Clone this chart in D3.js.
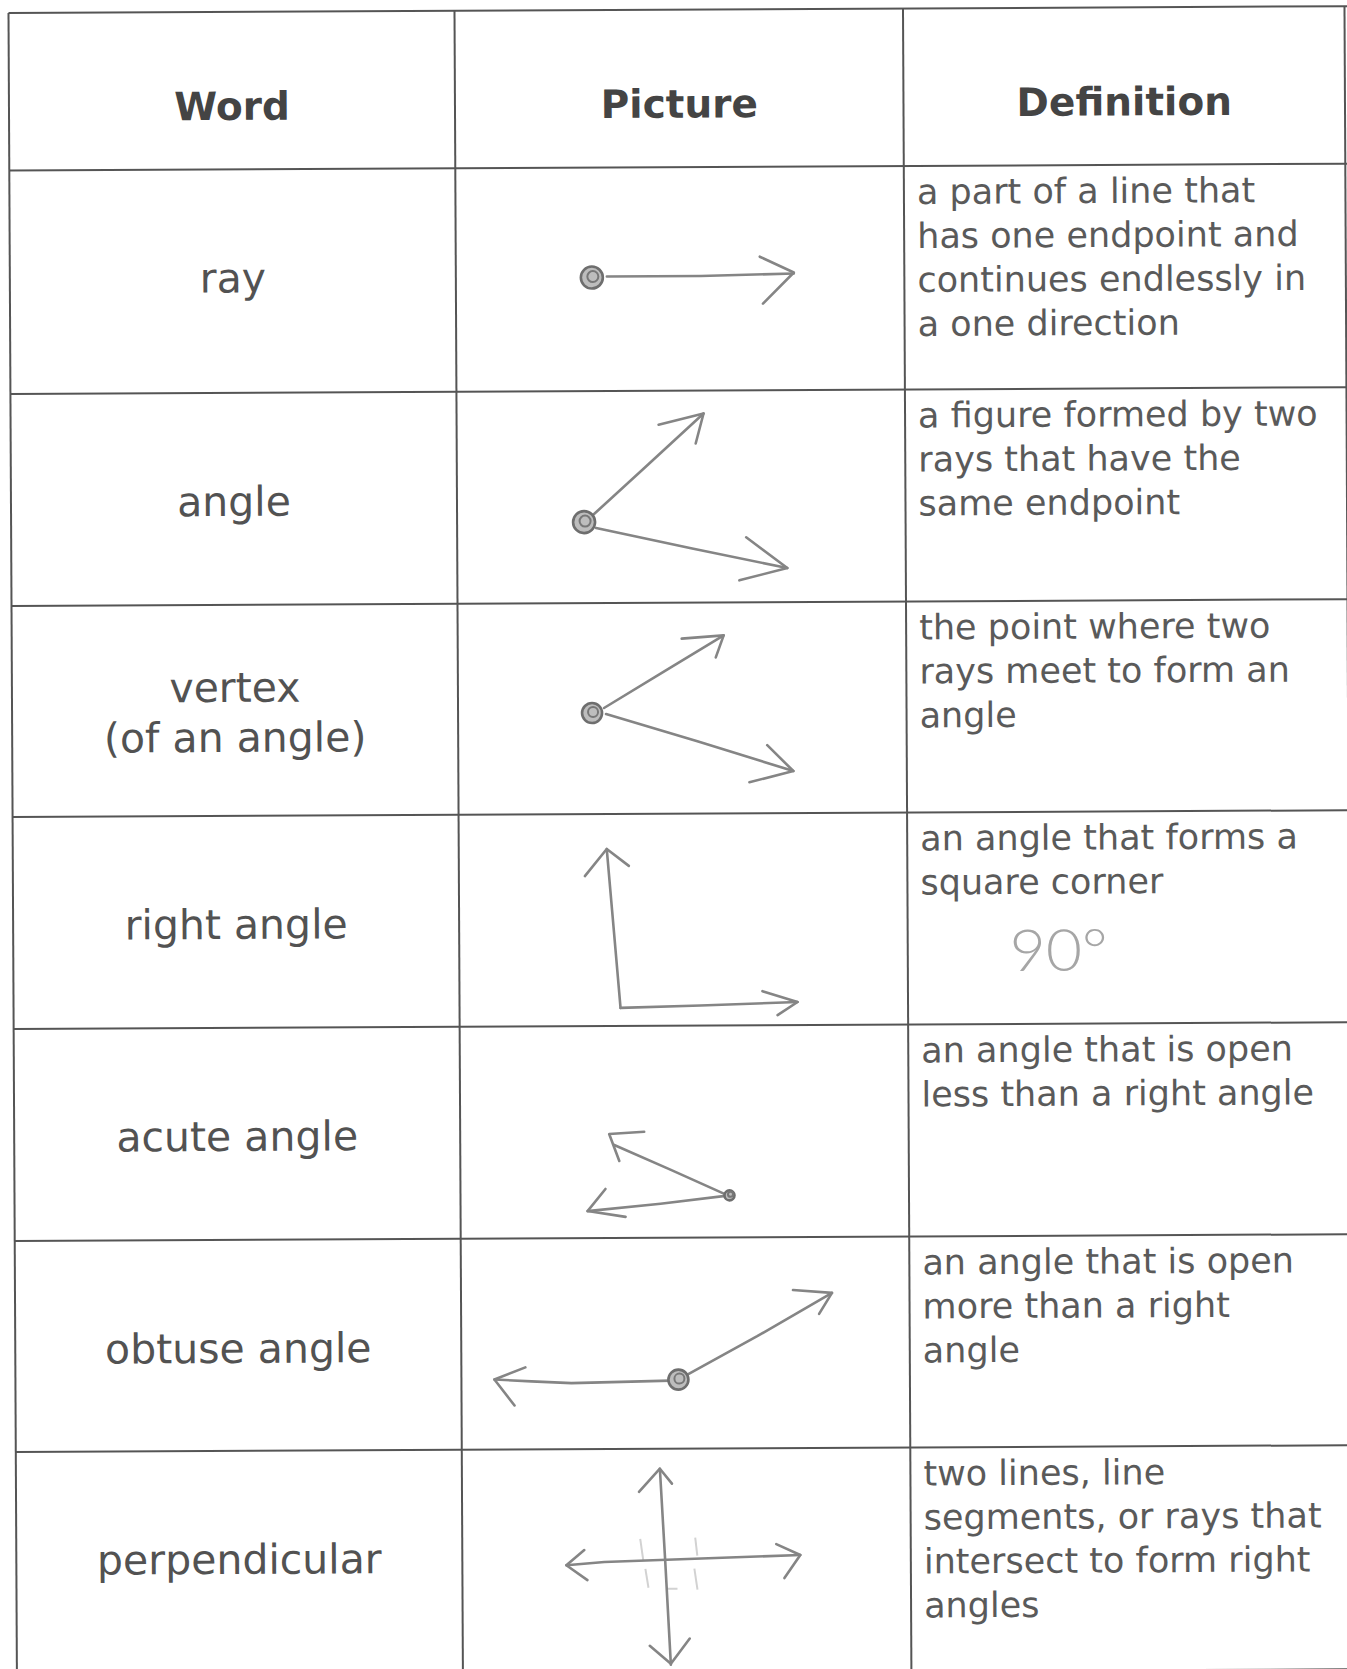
<!DOCTYPE html>
<html>
<head>
<meta charset="utf-8">
<script src="https://cdn.jsdelivr.net/npm/d3@7"></script>
<style>
  body { margin: 0; background: #fff; }
</style>
</head>
<body>
<div id="chart"></div>
<script>

// table content
var headers = ["Word", "Picture", "Definition"];

var words = [
  ["ray"],
  ["angle"],
  ["vertex", "(of an angle)"],
  ["right angle"],
  ["acute angle"],
  ["obtuse angle"],
  ["perpendicular"]
];

var definitions = [
  ["a part of a line that", "has one endpoint and", "continues endlessly in", "a one direction"],
  ["a figure formed by two", "rays that have the", "same endpoint"],
  ["the point where two", "rays meet to form an", "angle"],
  ["an angle that forms a", "square corner"],
  ["an angle that is open", "less than a right angle"],
  ["an angle that is open", "more than a right", "angle"],
  ["two lines, line", "segments, or rays that", "intersect to form right", "angles"]
];

// handwritten note in the right angle row
var notes = [{ row: 3, text: "90°" }];

// pencil strokes of each picture, in cell units
var rayStrokes = [
  [[151, 109], [245, 109], [338, 107]],
  [[304, 90], [338, 106], [307, 137]]
];
var rayDots = [[136, 110, 11]];

var angleStrokes = [
  [[137, 123], [190, 75], [247, 23]],
  [[202, 34], [247, 23], [239, 53]],
  [[139, 137], [235, 158], [330, 178]],
  [[289, 147], [330, 178], [282, 190]]
];
var angleDots = [[127, 131, 11]];

var vertexStrokes = [
  [[146, 105], [206, 69], [266, 33]],
  [[224, 36], [266, 33], [258, 55]],
  [[148, 111], [240, 139], [335, 169]],
  [[309, 143], [335, 169], [291, 180]]
];
var vertexDots = [[134, 110, 10]];

var rightStrokes = [
  [[148, 35], [153, 96], [157, 145], [161, 194]],
  [[161, 194], [241, 192], [338, 189]],
  [[126, 62], [148, 35], [170, 52]],
  [[303, 178], [338, 189], [318, 202]]
];
var rightDots = [];

var acuteStrokes = [
  [[154, 119], [210, 144], [265, 169]],
  [[184, 106], [149, 108], [159, 135]],
  [[269, 170], [200, 178], [127, 185]],
  [[145, 163], [127, 185], [165, 191]]
];
var acuteDots = [[269, 170, 5]];

var obtuseStrokes = [
  [[209, 143], [160, 144], [110, 145], [70, 143], [33, 141]],
  [[64, 129], [33, 141], [53, 167]],
  [[226, 137], [296, 99], [371, 56]],
  [[332, 53], [371, 56], [358, 77]]
];
var obtuseDots = [[217, 142, 10]];

var perpStrokes = [
  [[198, 20], [203, 115], [208, 216]],
  [[177, 43], [198, 20], [210, 35]],
  [[187, 197], [208, 215], [227, 190]],
  [[104, 116], [142, 113], [338, 107]],
  [[122, 101], [104, 116], [125, 131]],
  [[314, 96], [338, 107], [322, 130]]
];
var perpFaint = [
  [[178, 90], [181, 112]],
  [[233, 89], [235, 107]],
  [[183, 120], [186, 139]],
  [[232, 120], [235, 141]],
  [[205, 140], [215, 140]]
];
var perpDots = [];

var pictures = [
  { strokes: rayStrokes, dots: rayDots, faint: [] },
  { strokes: angleStrokes, dots: angleDots, faint: [] },
  { strokes: vertexStrokes, dots: vertexDots, faint: [] },
  { strokes: rightStrokes, dots: rightDots, faint: [] },
  { strokes: acuteStrokes, dots: acuteDots, faint: [] },
  { strokes: obtuseStrokes, dots: obtuseDots, faint: [] },
  { strokes: perpStrokes, dots: perpDots, faint: perpFaint }
];

// layout
var width = 1347, height = 1669;
var colEdges = [0, 446, 894.5, 1336];
var headerHeight = 157.5;
var rowHeights = [223.5, 212, 211, 212, 212, 211, 224];

var rowTops = [headerHeight];
rowHeights.forEach(function (h, i) { rowTops.push(rowTops[i] + h); });
var hLines = [0].concat(rowTops);

var lineColor = "#555";
var pencil = "#858585";

var svg = d3.select("#chart").append("svg")
  .attr("width", width)
  .attr("height", height);

svg.append("rect").attr("width", width).attr("height", height).attr("fill", "#fff");

// the scanned sheet is a little tilted
var table = svg.append("g")
  .attr("transform", "translate(8.5,13) rotate(-0.29)");

// grid
table.selectAll("line.h")
  .data(hLines)
  .enter()
  .append("line")
  .attr("class", "h")
  .attr("x1", colEdges[0])
  .attr("x2", colEdges[3] + 6)
  .attr("y1", function (d) { return d; })
  .attr("y2", function (d) { return d; })
  .attr("stroke", lineColor)
  .attr("stroke-width", 2);

table.selectAll("line.v")
  .data(colEdges)
  .enter()
  .append("line")
  .attr("class", "v")
  .attr("x1", function (d) { return d; })
  .attr("x2", function (d) { return d; })
  .attr("y1", 0)
  .attr("y2", hLines[hLines.length - 1])
  .attr("stroke", lineColor)
  .attr("stroke-width", 2);

// headers
table.selectAll("text.head")
  .data(headers)
  .enter()
  .append("text")
  .attr("class", "head")
  .attr("x", function (d, i) { return (colEdges[i] + colEdges[i + 1]) / 2; })
  .attr("y", 108)
  .attr("text-anchor", "middle")
  .attr("font-family", "DejaVu Sans, sans-serif")
  .attr("font-weight", "bold")
  .attr("font-size", 39)
  .attr("fill", "#444")
  .text(function (d) { return d; });

// word column
var wordX = (colEdges[0] + colEdges[1]) / 2;
words.forEach(function (lines, r) {
  var top = rowTops[r];
  var startY = lines.length === 1 ? top + 123 : top + 97;
  table.append("text")
    .attr("text-anchor", "middle")
    .attr("font-family", "DejaVu Sans, sans-serif")
    .attr("font-size", 41)
    .attr("fill", "#525252")
    .selectAll("tspan")
    .data(lines)
    .enter()
    .append("tspan")
    .attr("x", wordX)
    .attr("y", function (d, i) { return startY + i * 50; })
    .text(function (d) { return d; });
});

// definition column
definitions.forEach(function (lines, r) {
  var top = rowTops[r];
  table.append("text")
    .attr("font-family", "DejaVu Sans, sans-serif")
    .attr("font-size", 35)
    .attr("fill", "#5a5a5a")
    .selectAll("tspan")
    .data(lines)
    .enter()
    .append("tspan")
    .attr("x", colEdges[2] + 13)
    .attr("y", function (d, i) { return top + 38 + i * 44; })
    .text(function (d) { return d; });
});

notes.forEach(function (n) {
  table.append("text")
    .attr("x", colEdges[2] + 102)
    .attr("y", rowTops[n.row] + 159)
    .attr("font-family", "Lato, DejaVu Sans, sans-serif")
    .attr("font-weight", 300)
    .attr("font-size", 58)
    .attr("textLength", 98)
    .attr("lengthAdjust", "spacingAndGlyphs")
    .attr("fill", "#a6a6a6")
    .text(n.text);
});

// pictures
var line = d3.line().curve(d3.curveLinear);

pictures.forEach(function (pic, r) {
  var top = rowTops[r];
  var x = d3.scaleLinear().domain([0, 448]).range([colEdges[1], colEdges[1] + 448]);
  var y = d3.scaleLinear().domain([0, 212]).range([top, top + 212]);
  var g = table.append("g");
  line.x(function (d) { return x(d[0]); }).y(function (d) { return y(d[1]); });

  g.selectAll("path.faint")
    .data(pic.faint)
    .enter()
    .append("path")
    .attr("class", "faint")
    .attr("d", line)
    .attr("fill", "none")
    .attr("stroke", "#d2d2d2")
    .attr("stroke-width", 2);

  g.selectAll("path.stroke")
    .data(pic.strokes)
    .enter()
    .append("path")
    .attr("class", "stroke")
    .attr("d", line)
    .attr("fill", "none")
    .attr("stroke", pencil)
    .attr("stroke-width", 2.6)
    .attr("stroke-linecap", "round")
    .attr("stroke-linejoin", "round");

  g.selectAll("circle.ring")
    .data(pic.dots)
    .enter()
    .append("circle")
    .attr("class", "ring")
    .attr("cx", function (d) { return x(d[0]); })
    .attr("cy", function (d) { return y(d[1]); })
    .attr("r", function (d) { return d[2]; })
    .attr("fill", "#bdbdbd")
    .attr("stroke", "#6e6e6e")
    .attr("stroke-width", 2.6);

  g.selectAll("circle.core")
    .data(pic.dots)
    .enter()
    .append("circle")
    .attr("class", "core")
    .attr("cx", function (d) { return x(d[0]) + 1; })
    .attr("cy", function (d) { return y(d[1]) - 1; })
    .attr("r", function (d) { return d[2] * 0.5; })
    .attr("fill", "none")
    .attr("stroke", "#777")
    .attr("stroke-width", 2);
});

</script>
</body>
</html>
